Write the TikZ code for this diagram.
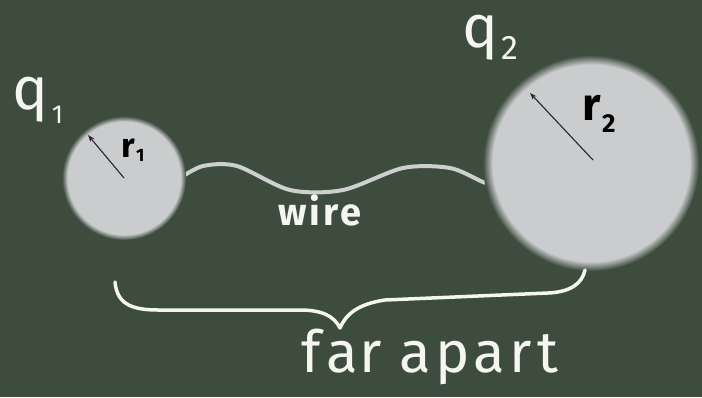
\documentclass[tikz,border=0pt]{standalone}
\usepackage{fontspec}
\setmainfont{Fira Sans}
\usetikzlibrary{arrows.meta}
\definecolor{boardbg}{RGB}{62,76,62}
\definecolor{diskc}{RGB}{202,204,206}
\definecolor{chalk}{RGB}{246,246,240}
\definecolor{wirec}{RGB}{205,208,205}
\pgfdeclareradialshading{blurdisk}{\pgfpoint{0bp}{0bp}}{color(0bp)=(diskc); color(22.8bp)=(diskc); color(25bp)=(boardbg); color(50bp)=(boardbg)}
\pgfdeclarelayer{bg}
\pgfdeclarelayer{wirelayer}
\pgfsetlayers{bg,wirelayer,main}
\begin{document}
\begin{tikzpicture}[x=1pt,y=-1pt,
  disk/.style={circle, draw=none, inner sep=0pt, shading=blurdisk},
  chalktext/.style={text=chalk, inner sep=0pt},
  radarrow/.style={draw=black!85, line width=1.1pt, -{Stealth[length=7pt,width=5pt,open]}},
  rlabel/.style={text=black, inner sep=0pt}]
\begin{pgfonlayer}{bg}
\fill[boardbg] (0,0) rectangle (702,397);
\end{pgfonlayer}
\useasboundingbox (0,0) rectangle (702,397);
% spheres
\node[disk, minimum size=124pt] (s1) at (124,178) {};
\node[disk, minimum size=216pt] (s2) at (591,163) {};
% wire
\begin{pgfonlayer}{wirelayer}
\draw[wirec, line width=4pt, line join=round, line cap=round]
  plot[smooth, tension=0.5] coordinates {([xshift=-6pt]s1.east) (203,166) (237,166) (290,190) (343,190) (403,168) (450,168) (483,182) ([xshift=12pt,yshift=-22pt]s2.west)};
\end{pgfonlayer}
% radii
\coordinate (r1tip) at (88,135);
\coordinate (r2tip) at (530,93);
\draw[radarrow] (s1.center) -- (r1tip);
\draw[radarrow] ([xshift=2pt,yshift=3pt]s2.center) -- (r2tip);
\node[rlabel, font=\fontsize{34}{38}\selectfont\bfseries] (r1) at (133,150) {r\kern1pt\raisebox{-4pt}{\fontsize{18}{20}\selectfont 1}};
\node[rlabel, font=\fontsize{46}{50}\selectfont\bfseries] (r2) at (599,114) {r\kern1pt\raisebox{-12pt}{\fontsize{26}{28}\selectfont 2}};
% charges
\node[chalktext, font=\fontsize{60}{64}\selectfont] (q1) at (38,100) {q\kern3pt\raisebox{-14pt}{\fontsize{26}{28}\selectfont 1}};
\node[chalktext, font=\fontsize{60}{64}\selectfont] (q2) at (490,38) {q\kern3pt\raisebox{-12pt}{\fontsize{34}{36}\selectfont 2}};
% wire label
\node[chalktext, font=\fontsize{38}{42}\selectfont\bfseries] (wl) at (320,210) {w\kern3pt i\kern3pt r\kern2pt e};
% brace
\coordinate (bl) at (115,282);
\coordinate (br) at (585,270);
\coordinate (btip) at (340,328);
\draw[chalk, line width=3.5pt, line cap=round, line join=round]
  (bl) .. controls (117,303) and (130,310) .. (158,310) -- (300,310)
  .. controls (322,310) and (334,316) .. (btip)
  .. controls (346,314) and (358,304) .. (385,300) -- (548,293)
  .. controls (570,292) and (582,284) .. (br);
\node[chalktext, font=\fontsize{58}{62}\selectfont] (far) at (430,357) {f\kern6pt a\kern1pt r\kern18pt a\kern4pt p\kern4pt a\kern4pt r\kern6pt t};
\end{tikzpicture}
\end{document}
